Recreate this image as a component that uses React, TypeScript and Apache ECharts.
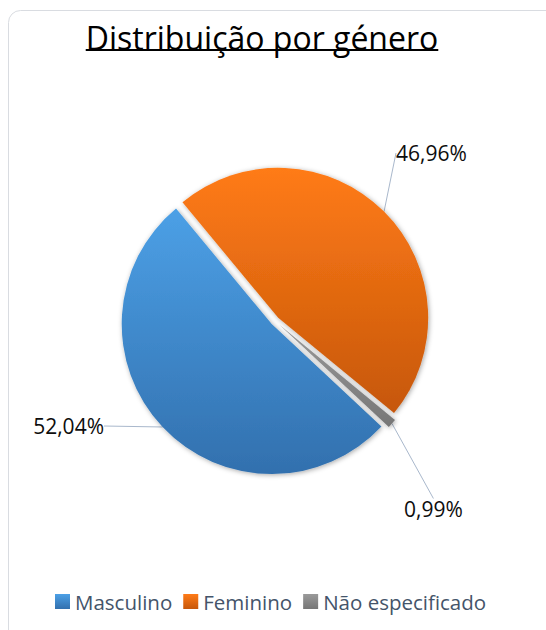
import React, { useEffect, useRef } from 'react';
import * as echarts from 'echarts';

const TITLE = 'Distribuição por género';
const categories = ['Masculino', 'Feminino', 'Não especificado'];
const values = [52.04, 46.96, 0.99];

const gradients: string[][] = [
  ['#4CA0E6', '#3270AE'],
  ['#FF7B17', '#C6570A'],
  ['#9A9A9A', '#767676'],
];

// layout only
const CENTER = [275, 321];
const RADIUS = 150;
const START_ANGLE = 317;
const EXPLODE = [4.5, 4.5, 5.5];
const labelPlacement = [
  { x: 104, y: 426, align: 'right' },
  { x: 396, y: 153, align: 'left' },
  { x: 404, y: 509, align: 'left' },
];

const FONT = '"Open Sans", "Noto Sans", sans-serif';

function grad(i: number) {
  return new echarts.graphic.LinearGradient(0, 0, 0, 1, [
    { offset: 0, color: gradients[i][0] },
    { offset: 1, color: gradients[i][1] },
  ]);
}

export default function App() {
  const ref = useRef<HTMLDivElement>(null);
  useEffect(() => {
    document.body.style.margin = '0';
    const chart = echarts.init(ref.current!, null, { renderer: 'svg' });
    const titleSize = 32;
    const ctx = document.createElement('canvas').getContext('2d')!;
    ctx.font = `${titleSize}px "Open Sans"`;
    const tw = ctx.measureText(TITLE).width;
    const titleX = 262;

    const total = values.reduce((a, b) => a + b, 0);
    let cum = 0;
    const series = categories.map((_, k) => {
      const start = START_ANGLE - (cum / total) * 360;
      const mid = start - (values[k] / total) * 180;
      cum += values[k];
      const rad = (mid * Math.PI) / 180;
      const c = [CENTER[0] + Math.cos(rad) * EXPLODE[k], CENTER[1] - Math.sin(rad) * EXPLODE[k]];
      return {
        type: 'pie',
        center: c,
        radius: RADIUS,
        startAngle: START_ANGLE,
        clockwise: true,
        avoidLabelOverlap: false,
        emphasis: { disabled: true },
        silent: true,
        label: {
          show: true,
          position: 'outside',
          fontFamily: FONT,
          fontSize: 21,
          color: '#0D0D0D',
          formatter: (p: any) => `${(p.value as number).toFixed(2).replace('.', ',')}%`,
        },
        labelLine: {
          show: true,
          length: 10,
          length2: 0,
          lineStyle: { color: '#A9B8CC', width: 1 },
        },
        labelLayout: (p: any) => {
          const lp = labelPlacement[p.dataIndex];
          return { x: lp.x, y: lp.y, align: lp.align, verticalAlign: 'middle' };
        },
        data: categories.map((name, i) =>
          i === k
            ? {
                name,
                value: values[i],
                itemStyle: {
                  color: grad(i),
                  shadowBlur: 5,
                  shadowColor: 'rgba(0,0,0,0.35)',
                  shadowOffsetX: 1,
                  shadowOffsetY: 1,
                },
              }
            : {
                name,
                value: values[i],
                itemStyle: { color: 'rgba(0,0,0,0)' },
                label: { show: false },
                labelLine: { show: false },
              }
        ),
      };
    });

    chart.setOption({
      animation: false,
      graphic: [
        {
          type: 'rect',
          silent: true,
          shape: { x: 8.5, y: 10.5, width: 560, height: 640, r: 12 },
          style: { fill: '#FFFFFF', stroke: '#D9DCE1', lineWidth: 1 },
          z: -10,
        },
        {
          type: 'text',
          x: titleX,
          y: 37,
          style: {
            text: TITLE,
            fill: '#000000',
            font: `${titleSize}px "Open Sans"`,
            textAlign: 'center',
            textVerticalAlign: 'middle',
          },
        },
        {
          type: 'rect',
          shape: { x: titleX - tw / 2, y: 49, width: tw, height: 2 },
          style: { fill: '#000000' },
        },
      ],
      legend: {
        data: categories.map((name, i) => ({ name, itemStyle: { color: grad(i) } })),
        left: 50,
        top: 586,
        icon: 'rect',
        itemWidth: 15,
        itemHeight: 15,
        itemGap: 11,
        selectedMode: false,
        textStyle: { fontFamily: FONT, fontSize: 20.5, color: '#44546A' },
      },
      series,
    });
    return () => chart.dispose();
  }, []);
  return <div ref={ref} style={{ width: 546, height: 630 }} />;
}
